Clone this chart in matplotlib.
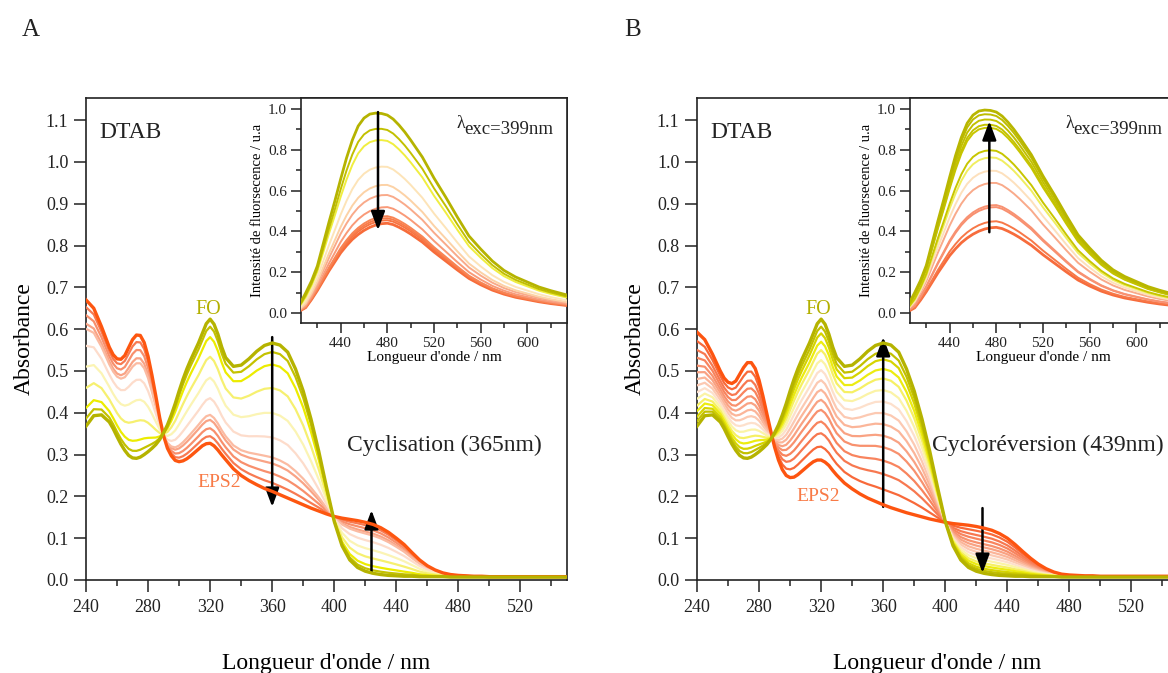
import numpy as np
import matplotlib.pyplot as plt
from matplotlib.ticker import MultipleLocator

plt.rcParams['font.family'] = ['Liberation Serif', 'DejaVu Serif']
plt.rcParams['text.color'] = '#222222'
plt.rcParams['axes.edgecolor'] = '#222222'
plt.rcParams['xtick.color'] = '#222222'
plt.rcParams['ytick.color'] = '#222222'

# ---------------- absorption data ----------------
# finer sampling across the two UV bands
wavelength = np.concatenate([np.arange(240, 255, 5),
                             np.arange(255, 330, 2.5),
                             np.arange(330, 551, 5)])

# open form (FO) spectrum
abs_fo = [0.368, 0.393, 0.395,
          0.378, 0.362, 0.343, 0.325, 0.310, 0.298, 0.292, 0.291, 0.294, 0.300,
          0.307, 0.315, 0.324, 0.336, 0.352, 0.371, 0.395, 0.422, 0.452, 0.480,
          0.505, 0.527, 0.547, 0.567, 0.590, 0.613, 0.624, 0.612, 0.588, 0.557,
          0.532, 0.511, 0.514, 0.529, 0.547, 0.561, 0.567, 0.562, 0.545, 0.505,
          0.452, 0.385, 0.308, 0.222, 0.140, 0.082, 0.048, 0.030, 0.021, 0.016,
          0.013, 0.011, 0.010, 0.009, 0.009, 0.008, 0.008, 0.008, 0.008, 0.007,
          0.007, 0.007, 0.007, 0.007, 0.007, 0.007, 0.007, 0.007, 0.007, 0.007,
          0.007, 0.007, 0.007, 0.007, 0.007]

# photostationary state EPS2, cyclisation series
abs_eps2_a = [0.670, 0.650, 0.606,
              0.557, 0.539, 0.529, 0.528, 0.537, 0.556, 0.575, 0.586, 0.585, 0.568,
              0.535, 0.490, 0.440, 0.388, 0.345, 0.315, 0.297, 0.286, 0.283, 0.285,
              0.290, 0.297, 0.305, 0.313, 0.321, 0.326, 0.327, 0.321, 0.311, 0.299,
              0.288, 0.266, 0.250, 0.238, 0.228, 0.219, 0.212, 0.204, 0.196, 0.188,
              0.180, 0.172, 0.165, 0.158, 0.152, 0.148, 0.145, 0.142, 0.138, 0.133,
              0.125, 0.114, 0.100, 0.085, 0.066, 0.048, 0.034, 0.024, 0.017, 0.013,
              0.011, 0.010, 0.009, 0.009, 0.008, 0.008, 0.008, 0.008, 0.008, 0.008,
              0.008, 0.008, 0.008, 0.008, 0.008]

# photostationary state EPS2, cycloreversion series
abs_eps2_b = [0.593, 0.575, 0.540,
              0.500, 0.483, 0.473, 0.470, 0.476, 0.492, 0.508, 0.520, 0.520, 0.506,
              0.478, 0.440, 0.398, 0.357, 0.318, 0.287, 0.264, 0.250, 0.245, 0.246,
              0.252, 0.260, 0.268, 0.276, 0.283, 0.287, 0.287, 0.282, 0.274, 0.262,
              0.251, 0.232, 0.218, 0.206, 0.196, 0.188, 0.180, 0.173, 0.167, 0.161,
              0.156, 0.151, 0.146, 0.142, 0.138, 0.135, 0.133, 0.131, 0.128, 0.124,
              0.119, 0.111, 0.100, 0.085, 0.068, 0.052, 0.038, 0.027, 0.019, 0.014,
              0.012, 0.011, 0.010, 0.010, 0.009, 0.009, 0.009, 0.009, 0.009, 0.009,
              0.009, 0.009, 0.009, 0.009, 0.009]

# absorbance at 320 nm of each recorded spectrum (FO first, EPS2 last)
abs320_a = [0.624, 0.606, 0.581, 0.534, 0.484, 0.435, 0.395, 0.383, 0.363, 0.344, 0.327]
abs320_b = [0.624, 0.606, 0.590, 0.570, 0.550, 0.526, 0.502, 0.478, 0.455, 0.431,
            0.407, 0.379, 0.351, 0.319, 0.287]

colors_a = ['#b5b300', '#c4c200', '#ecec00', '#f6f070', '#fbf4b4', '#fddccb',
            '#fbbba2', '#f9a385', '#f88f6c', '#f77a52', '#fd5610']
colors_b = ['#b5b300', '#c2c000', '#d6d400', '#ecec10', '#f6f064', '#fbf3a6',
            '#fde0cc', '#fcc9b2', '#fbb599', '#f9a283', '#f8916e', '#f8845e',
            '#f77850', '#f8693a', '#fd5410']

# ---------------- fluorescence data ----------------
em_wavelength = [406, 410, 415, 420, 425, 430, 435, 440, 445, 450, 455, 460, 465,
                 470, 475, 480, 485, 490, 495, 500, 510, 520, 530, 540, 550, 560,
                 570, 580, 590, 600, 610, 620, 634]
# normalised emission of FO and of EPS2
em_fo = [0.056, 0.10, 0.16, 0.235, 0.345, 0.455, 0.56, 0.67, 0.775, 0.865, 0.935,
         0.975, 0.995, 1.0, 0.998, 0.99, 0.97, 0.94, 0.905, 0.865, 0.78, 0.675,
         0.58, 0.48, 0.385, 0.32, 0.26, 0.213, 0.18, 0.155, 0.13, 0.112, 0.09]
em_eps2 = [0.03, 0.06, 0.15, 0.25, 0.36, 0.47, 0.57, 0.67, 0.75, 0.82, 0.875,
           0.92, 0.955, 0.98, 0.995, 1.0, 0.985, 0.955, 0.92, 0.88, 0.79, 0.68,
           0.58, 0.48, 0.385, 0.315, 0.255, 0.21, 0.175, 0.15, 0.125, 0.105, 0.083]

# emission maxima of each recorded spectrum
fl_peak_a = [0.98, 0.905, 0.85, 0.72, 0.63, 0.58, 0.52, 0.475, 0.465, 0.455, 0.44]
fl_peak_b = [0.995, 0.975, 0.95, 0.925, 0.91, 0.80, 0.765, 0.70, 0.64, 0.53, 0.52,
             0.45, 0.42]
fl_colors_a = ['#b5b300', '#c2c000', '#f0ee40', '#fde4b8', '#fcd2a6', '#f9aa8a',
               '#f99a78', '#f88454', '#f87c4a', '#f77442', '#f76c3a']
fl_colors_b = ['#b8b600', '#bebc00', '#c2c000', '#c4c200', '#c8c600', '#c8c600',
               '#f0ee60', '#fde0bc', '#f9aa8a', '#f89272', '#f89070', '#f77848',
               '#f76c3c']

W, H = 1168, 673


def rect(x0, y0, x1, y1):
    return [x0 / W, 1 - y1 / H, (x1 - x0) / W, (y1 - y0) / H]


def style_main(ax):
    ax.set_xlim(240, 550)
    ax.set_ylim(0, 1.153)
    ax.xaxis.set_major_locator(MultipleLocator(40))
    ax.xaxis.set_minor_locator(MultipleLocator(20))
    ax.yaxis.set_major_locator(MultipleLocator(0.1))
    ax.yaxis.set_major_formatter(plt.FormatStrFormatter('%.1f'))
    ax.tick_params(which='major', direction='out', length=8.6, width=1.1,
                   labelsize=13, pad=5)
    ax.tick_params(which='minor', direction='out', length=4.5, width=1.1)
    ax.tick_params(axis='y', pad=4)
    for s in ax.spines.values():
        s.set_linewidth(1.2)
    ax.set_xlabel("Longueur d'onde / nm", fontsize=17, labelpad=27)
    ax.set_ylabel('Absorbance', fontsize=17, labelpad=8)


def style_inset(ax):
    ax.set_xlim(406, 634)
    ax.set_ylim(-0.049, 1.054)
    ax.xaxis.set_major_locator(MultipleLocator(40))
    ax.xaxis.set_minor_locator(MultipleLocator(20))
    ax.yaxis.set_major_locator(MultipleLocator(0.2))
    ax.yaxis.set_minor_locator(MultipleLocator(0.1))
    ax.yaxis.set_major_formatter(plt.FormatStrFormatter('%.1f'))
    ax.set_xticks([440, 480, 520, 560, 600])
    ax.tick_params(which='major', direction='out', length=7, width=1.1,
                   labelsize=11, pad=3)
    ax.tick_params(which='minor', direction='out', length=3.5, width=1.1)
    for s in ax.spines.values():
        s.set_linewidth(1.2)
    ax.set_xlabel("Longueur d'onde / nm", fontsize=11, labelpad=1)
    ax.set_ylabel('Intensité de fluorsecence / u.a', fontsize=10.5, labelpad=3)


def arrow(ax, x0, y0, x1, y1):
    ax.annotate('', xy=(x1, y1), xytext=(x0, y0),
                arrowprops=dict(arrowstyle='-|>,head_length=0.75,head_width=0.28',
                                mutation_scale=15, color='black', lw=1.8,
                                shrinkA=0, shrinkB=0))


def draw_absorbance(ax, eps, a320, colors):
    fo = np.array(abs_fo)
    ep = np.array(eps)
    i320 = int(np.argmin(np.abs(wavelength - 320)))
    n = len(a320)
    for k in range(n - 1, -1, -1):
        frac = (fo[i320] - a320[k]) / (fo[i320] - ep[i320])
        spec = (1 - frac) * fo + frac * ep
        lw = 2.4 if k in (0, n - 1) else 1.6
        ax.plot(wavelength, spec, color=colors[k], lw=lw, solid_joinstyle='round',
                zorder=3 + (k in (0, n - 1)))


def draw_fluo(ax, peaks, colors):
    fo = np.array(em_fo)
    ep = np.array(em_eps2)
    top, bottom = max(peaks), min(peaks)
    n = len(peaks)
    for k in range(n - 1, -1, -1):
        w = (peaks[k] - bottom) / (top - bottom)
        spec = peaks[k] * (w * fo + (1 - w) * ep)
        lw = 2.0 if k in (0, n - 1) else 1.4
        ax.plot(em_wavelength, spec, color=colors[k], lw=lw, zorder=3)


fig = plt.figure(figsize=(W / 100, H / 100), dpi=100)

panels = [
    dict(x0=86, inset_x0=301, eps=abs_eps2_a, a320=abs320_a, colors=colors_a,
         fl=fl_peak_a, flc=fl_colors_a, title='Cyclisation (365nm)', tx=471,
         letter='A', lx=22, fo_xy=(319, 0.647), eps_xy=(326, 0.233),
         arrows=[(360, 0.581, 360, 0.175), (424, 0.017, 424, 0.167)],
         fl_arrow=(472, 0.985, 472, 0.406)),
    dict(x0=697, inset_x0=910, eps=abs_eps2_b, a320=abs320_b, colors=colors_b,
         fl=fl_peak_b, flc=fl_colors_b, title='Cycloréversion (439nm)', tx=466,
         letter='B', lx=624, fo_xy=(318, 0.646), eps_xy=(318, 0.20),
         arrows=[(360, 0.175, 360, 0.581), (424, 0.172, 424, 0.017)],
         fl_arrow=(474, 0.396, 474, 0.94)),
]

for p in panels:
    ax = fig.add_axes(rect(p['x0'], 98, p['x0'] + 481, 580))
    style_main(ax)
    draw_absorbance(ax, p['eps'], p['a320'], p['colors'])
    for a in p['arrows']:
        arrow(ax, *a)
    ax.text(0.028, 0.929, 'DTAB', transform=ax.transAxes, fontsize=17,
            va='center', ha='left')
    ax.text(*p['fo_xy'], 'FO', color='#b3b000', fontsize=14.5, ha='center',
            va='center')
    ax.text(*p['eps_xy'], 'EPS2', color='#f87a46', fontsize=14, ha='center',
            va='center')
    ax.text(p['tx'], 0.322, p['title'], fontsize=17, ha='center', va='center')

    axi = fig.add_axes(rect(p['inset_x0'], 98, p['inset_x0'] + 266, 323))
    axi.set_facecolor('white')
    style_inset(axi)
    draw_fluo(axi, p['fl'], p['flc'])
    arrow(axi, *p['fl_arrow'])
    axi.text(0.583, 0.865, 'λ', transform=axi.transAxes, fontsize=13,
             ha='left', va='baseline')
    axi.text(0.612, 0.838, 'exc=399nm', transform=axi.transAxes, fontsize=13.5,
             ha='left', va='baseline')

    fig.text(p['lx'] / W, 1 - 30 / H, p['letter'], fontsize=18, ha='left',
             va='center')

fig.savefig('out.png', dpi=100)
